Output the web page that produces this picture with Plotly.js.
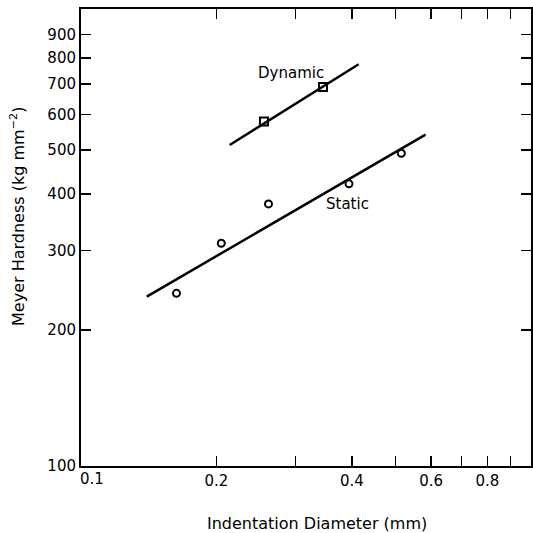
<!DOCTYPE html>
<html>
<head>
<meta charset="utf-8">
<script src="https://cdn.plot.ly/plotly-3.0.1.min.js"></script>
<style>
  html, body { margin: 0; padding: 0; background: #fff; }
  #chart { width: 533px; height: 533px; }
</style>
</head>
<body>
<div id="chart"></div>
<script>
// Meyer hardness vs. indentation diameter (log-log)
const staticDiameter = [0.163, 0.205, 0.261, 0.394, 0.515];
const staticHardness = [241, 311, 380, 421, 492];
const dynamicDiameter = [0.255, 0.345];
const dynamicHardness = [578, 689];

// fitted lines (end points)
const staticFitDiameter = [0.140, 0.583];
const staticFitHardness = [237, 541];
const dynamicFitDiameter = [0.214, 0.414];
const dynamicFitHardness = [513, 774];

const xTickVals = [0.2, 0.4, 0.6, 0.8];
const xTickText = ['0.2', '0.4', '0.6', '0.8'];
const xMinorTickVals = [0.3, 0.5, 0.7, 0.9];
const yTickVals = [100, 200, 300, 400, 500, 600, 700, 800, 900];
const yTickText = ['100', '200', '300', '400', '500', '600', '700', '800', '900'];

const FONT = 'DejaVu Sans, sans-serif';
const INK = '#000';

const traces = [
  {
    x: staticFitDiameter, y: staticFitHardness, mode: 'lines',
    line: { color: INK, width: 2.5 }, hoverinfo: 'skip', showlegend: false
  },
  {
    x: dynamicFitDiameter, y: dynamicFitHardness, mode: 'lines',
    line: { color: INK, width: 2.5 }, hoverinfo: 'skip', showlegend: false
  },
  {
    x: staticDiameter, y: staticHardness, mode: 'markers', name: 'Static',
    marker: { symbol: 'circle-open', size: 7, color: INK, line: { width: 2, color: INK } },
    showlegend: false
  },
  {
    x: dynamicDiameter, y: dynamicHardness, mode: 'markers', name: 'Dynamic',
    marker: { symbol: 'square-open', size: 8, color: INK, line: { width: 2, color: INK } },
    showlegend: false
  }
];

const layout = {
  width: 533, height: 533,
  margin: { l: 81, r: 2, t: 9, b: 67 },
  paper_bgcolor: '#fff', plot_bgcolor: '#fff',
  font: { family: FONT, size: 14, color: INK },
  showlegend: false,
  xaxis: {
    type: 'log', range: [-1, 0],
    tickmode: 'array', tickvals: xTickVals, ticktext: xTickText,
    ticks: 'inside', ticklen: 10, tickwidth: 1.5, tickcolor: INK,
    minor: { tickmode: 'array', tickvals: xMinorTickVals, ticks: 'inside',
             ticklen: 10, tickwidth: 1.5, tickcolor: INK, showgrid: false },
    showline: true, linewidth: 2, linecolor: INK, mirror: 'ticks',
    showgrid: false, zeroline: false,
    tickfont: { family: FONT, size: 15, color: INK }
  },
  yaxis: {
    type: 'log', range: [2, 3.011],
    tickmode: 'array', tickvals: yTickVals, ticktext: yTickText,
    ticks: 'inside', ticklen: 10, tickwidth: 1.5, tickcolor: INK,
    showline: true, linewidth: 2, linecolor: INK, mirror: 'ticks',
    showgrid: false, zeroline: false,
    ticklabelstandoff: 0,
    tickfont: { family: FONT, size: 15, color: INK }
  },
  annotations: [
    { text: 'Dynamic', xref: 'x', yref: 'y', x: Math.log10(0.293), y: Math.log10(739),
      showarrow: false, font: { family: FONT, size: 15, color: INK } },
    { text: 'Static', xref: 'x', yref: 'y', x: Math.log10(0.392), y: Math.log10(379),
      showarrow: false, font: { family: FONT, size: 15, color: INK } },
    { text: '0.1', xref: 'paper', yref: 'paper', x: 0.024, y: -0.028,
      xanchor: 'center', yanchor: 'middle', showarrow: false,
      font: { family: FONT, size: 15, color: INK } },
    { text: 'Indentation Diameter (mm)', xref: 'paper', yref: 'paper', x: 0.524, y: -0.125,
      xanchor: 'center', yanchor: 'middle', showarrow: false,
      font: { family: FONT, size: 16, color: INK } },
    { text: 'Meyer Hardness (kg mm<sup>−2</sup>)', xref: 'paper', yref: 'paper', x: -0.14, y: 0.545,
      xanchor: 'center', yanchor: 'middle', textangle: -90, showarrow: false,
      font: { family: FONT, size: 16, color: INK } }
  ]
};

Plotly.newPlot('chart', traces, layout, { displayModeBar: false, staticPlot: true });
</script>
</body>
</html>
